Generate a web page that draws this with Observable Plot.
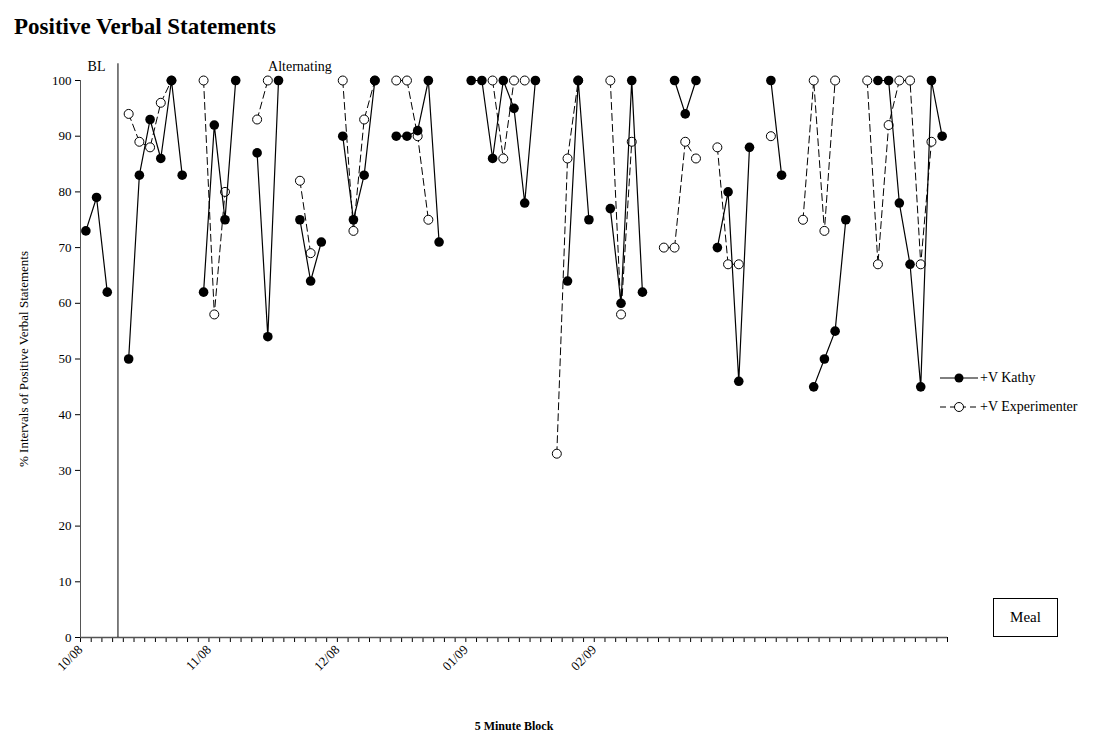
<!DOCTYPE html>
<html>
<head>
<meta charset="utf-8">
<script src="https://cdn.jsdelivr.net/npm/d3@7"></script>
<script src="https://cdn.jsdelivr.net/npm/@observablehq/plot@0.6"></script>
<style>
  body { margin: 0; background: #fff; font-family: "Liberation Serif", serif; }
  #wrap { position: relative; width: 1120px; height: 738px; }
  h1 { margin: 0; position: absolute; left: 14px; top: 14px; font-size: 23px; font-weight: bold; }
  #plot { position: absolute; left: 0; top: 55px; }
  .legend { position: absolute; left: 940px; font-size: 14px; display: flex; align-items: center; }
  #meal { position: absolute; left: 993px; top: 598px; width: 63px; height: 37px; border: 1px solid #000;
          display: flex; align-items: center; justify-content: center; font-size: 15px; }
</style>
</head>
<body>
<div id="wrap">
  <h1>Positive Verbal Statements</h1>
  <div id="plot"></div>
  <div class="legend" style="top:369px"><svg width="40" height="18"><line x1="0" y1="9" x2="38" y2="9" stroke="#000"/><circle cx="19" cy="9" r="4.5" fill="#000"/></svg>+V Kathy</div>
  <div class="legend" style="top:398px"><svg width="40" height="18"><line x1="0" y1="9" x2="38" y2="9" stroke="#000" stroke-dasharray="6,4"/><circle cx="19" cy="9" r="4.5" fill="#fff" stroke="#000"/></svg>+V Experimenter</div>
  <div id="meal">Meal</div>
</div>
<script>
const kathy = [73,79,62,null,50,83,93,86,100,83,null,62,92,75,100,null,87,54,100,null,
  75,64,71,null,90,75,83,100,null,90,90,91,100,71,null,null,100,100,86,100,
  95,78,100,null,null,64,100,75,null,77,60,100,62,null,null,100,94,100,null,70,
  80,46,88,null,100,83,null,null,45,50,55,75,null,null,100,100,78,67,45,100,90];
const experimenter = [null,null,null,null,94,89,88,96,100,null,null,100,58,80,null,null,93,100,null,null,
  82,69,null,null,100,73,93,100,null,100,100,90,75,null,null,null,null,null,100,86,
  100,100,null,null,33,86,100,null,null,100,58,89,null,null,70,70,89,86,null,88,
  67,67,null,null,90,null,null,75,100,73,100,null,null,100,67,92,100,100,67,89,null];
const tickLabels = ["10/08","11/08","12/08","01/09","02/09"];
const tickLabelPos = [-0.5, 11.5, 23.5, 35.5, 47.5];
const phaseChange = 3;
const phases = [{x: 1, label: "BL"}, {x: 20, label: "Alternating"}];

const rows = kathy.map((k, i) => ({i, k, e: experimenter[i]}));

const chart = Plot.plot({
  width: 1120, height: 683,
  marginLeft: 80, marginRight: 173, marginTop: 25, marginBottom: 101,
  style: {fontFamily: "Liberation Serif, serif", fontSize: "13px", color: "#000"},
  x: {domain: [-0.5, 80.5]},
  y: {domain: [0, 100]},
  marks: [
    Plot.axisY({ticks: d3.range(0, 101, 10), tickSize: 5, label: "% Intervals of Positive Verbal Statements",
      labelAnchor: "center", labelArrow: "none", labelOffset: 62, fontSize: 13}),
    Plot.axisX({ticks: d3.range(-0.5, 81, 1), tickFormat: () => "", tickSize: 5, label: null}),
    Plot.axisX({ticks: tickLabelPos, tickFormat: (d, i) => tickLabels[i], tickSize: 0, tickRotate: -45,
      tickPadding: 10, label: null, fontSize: 13}),
    Plot.text(["5 Minute Block"], {frameAnchor: "bottom", dy: 92, fontWeight: "bold", fontSize: 12}),
    Plot.ruleX([-0.5], {stroke: "#555"}),
    Plot.ruleY([0], {stroke: "#555", strokeWidth: 1.5}),
    Plot.ruleX([phaseChange], {y1: 0, y2: 103, stroke: "#000"}),
    Plot.text(phases, {x: "x", y: 102.5, text: "label", fontSize: 14, textAnchor: "middle", clip: false}),
    Plot.line(rows, {x: "i", y: "e", stroke: "#000", strokeDasharray: "7,4", strokeWidth: 1}),
    Plot.dot(rows.filter(d => d.e != null), {x: "i", y: "e", r: 4.5, fill: "#fff", stroke: "#000", strokeWidth: 1}),
    Plot.line(rows, {x: "i", y: "k", stroke: "#000", strokeWidth: 1.2}),
    Plot.dot(rows.filter(d => d.k != null), {x: "i", y: "k", r: 4.8, fill: "#000"})
  ]
});
document.getElementById("plot").appendChild(chart);
</script>
</body>
</html>
